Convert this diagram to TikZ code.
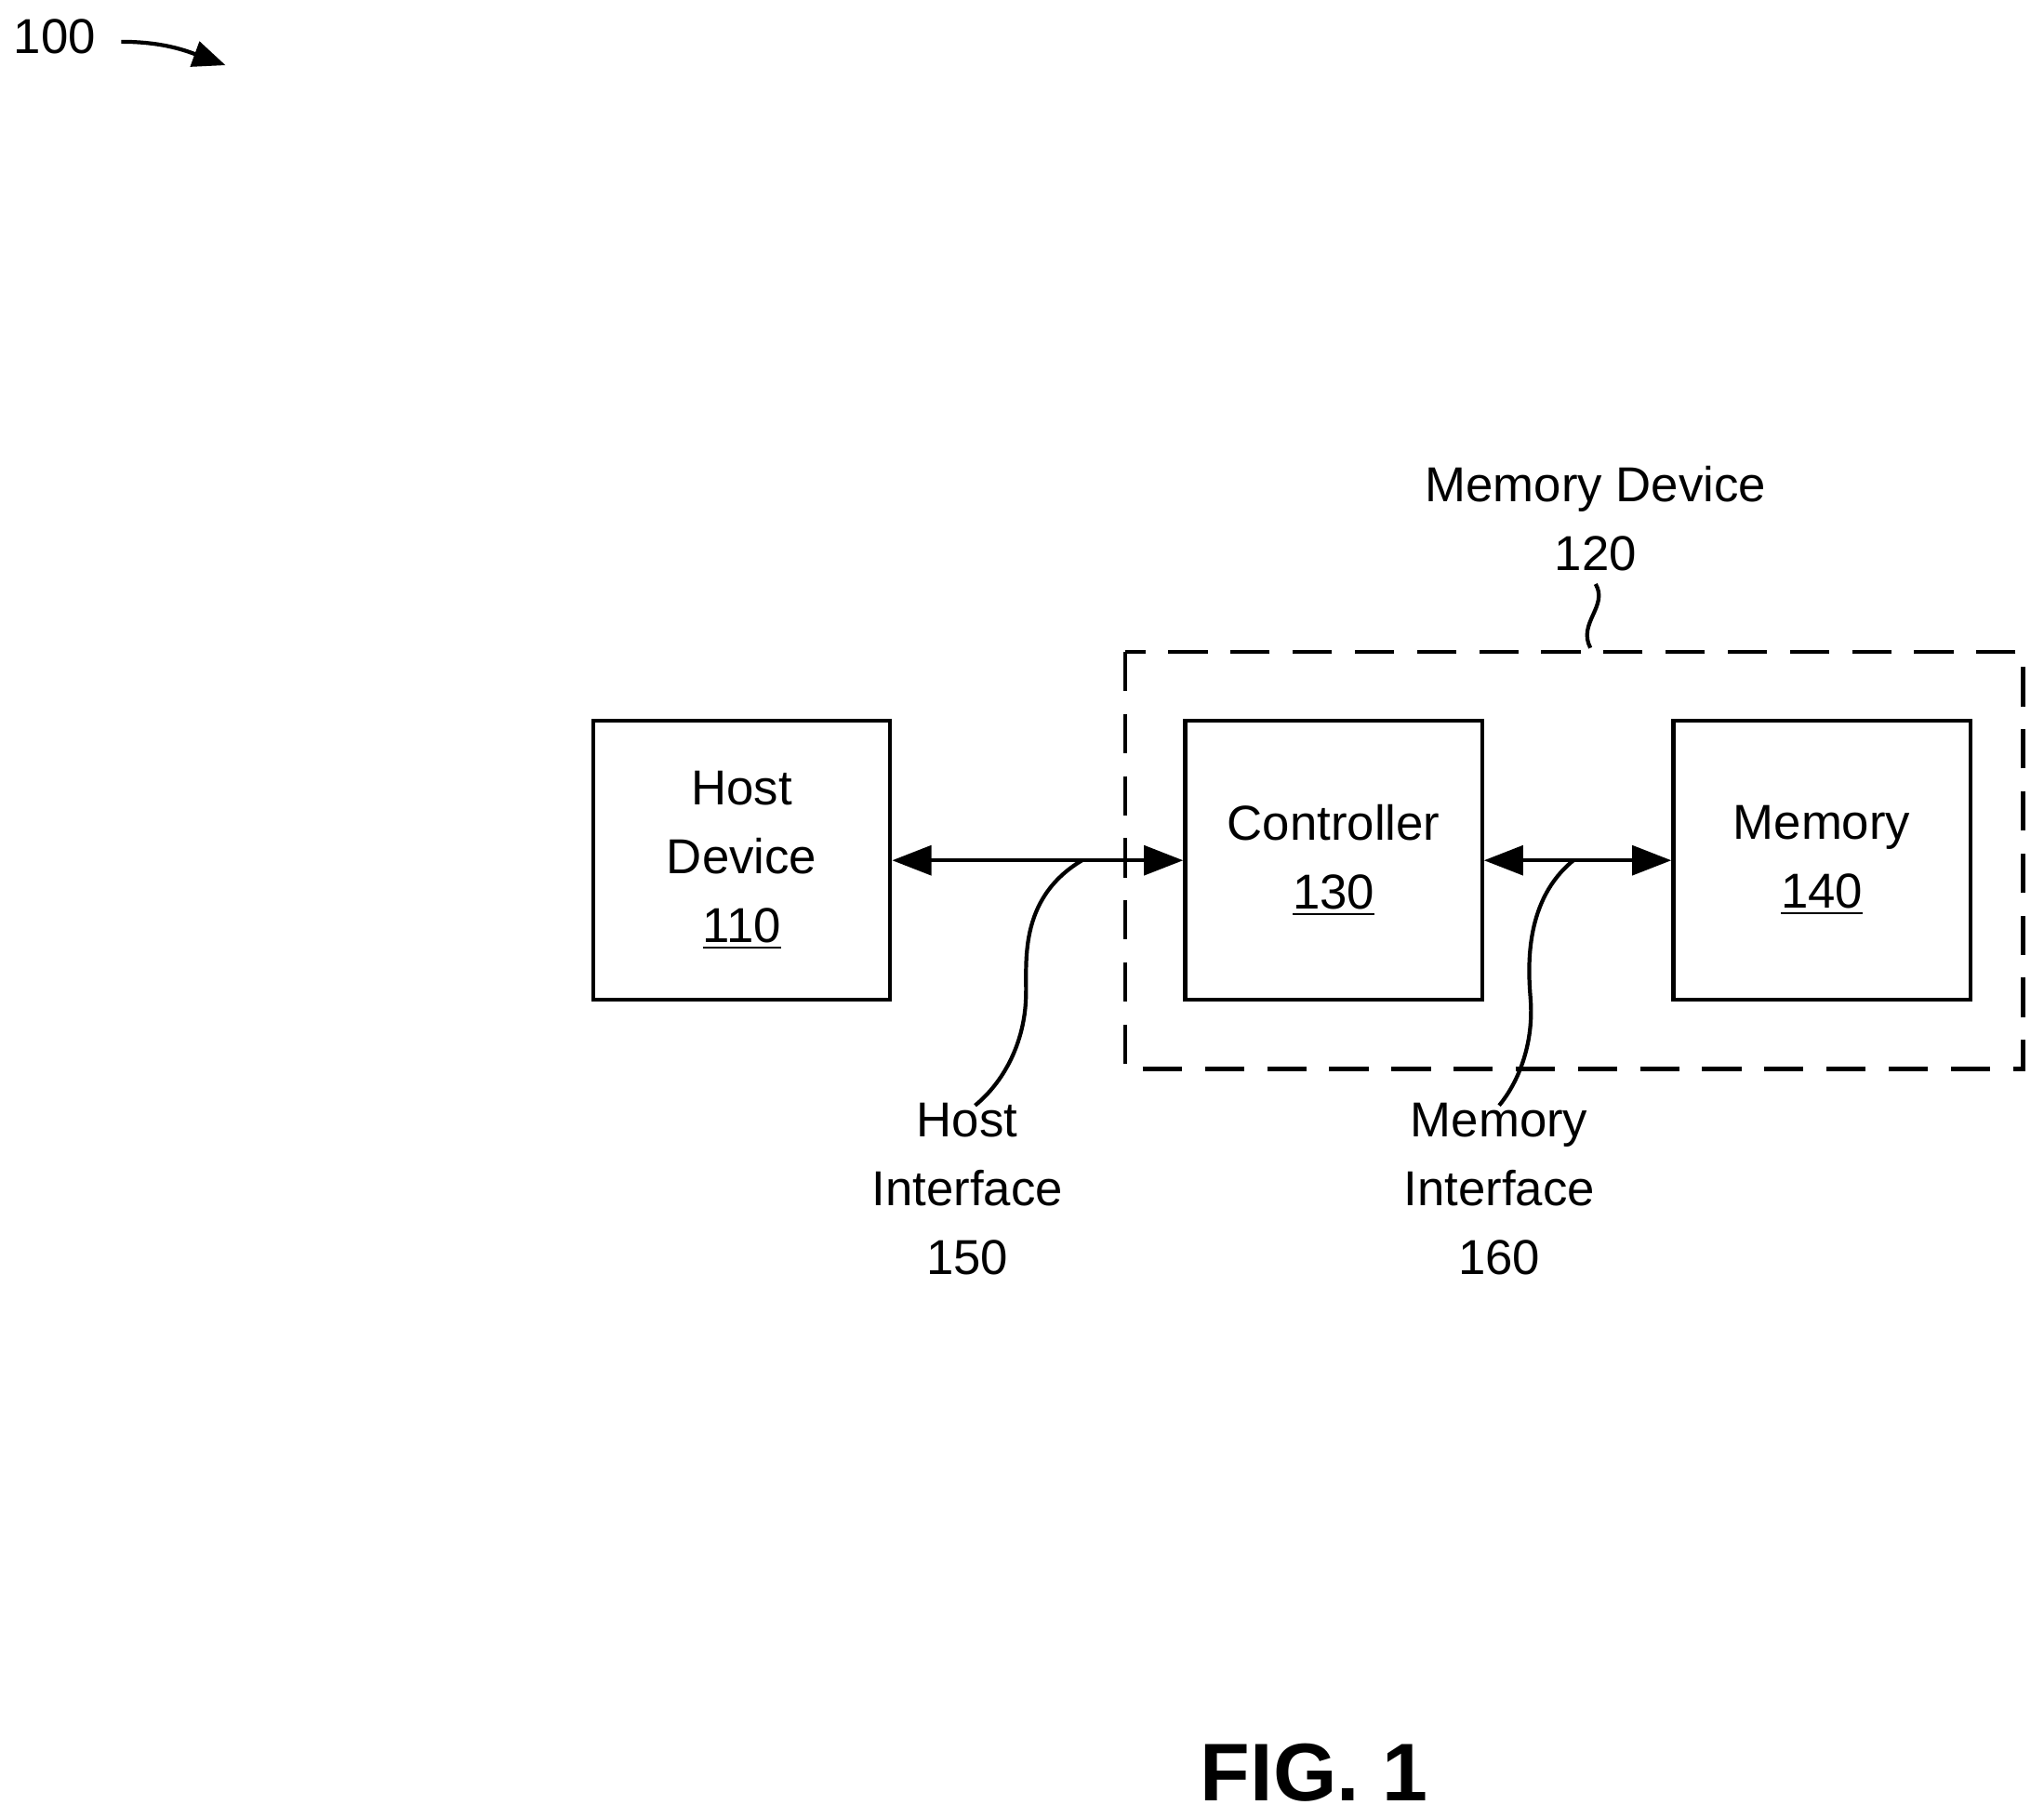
\documentclass[tikz,border=0pt]{standalone}
\usepackage{fontspec}
\setmainfont{Liberation Sans}
\usetikzlibrary{arrows.meta, positioning}
\tikzset{
  block/.style={draw, line width=1.2pt, minimum width=3.19cm, minimum height=3.0cm, align=center, inner sep=0pt},
  lbl/.style={align=center, inner sep=0pt},
  bus/.style={line width=1.2pt, {Triangle[length=12pt,width=9pt]}-{Triangle[length=12pt,width=9pt]}},
  lead/.style={line width=1.2pt}
}
\begin{document}
\begin{tikzpicture}[x=0.014cm, y=-0.014cm, font=\fontsize{15}{21}\selectfont]
  \useasboundingbox (0,0) rectangle (1568,1394);
  % figure reference
  \node[lbl, anchor=west] (fig) at (10,28) {100};
  \coordinate (figtip) at (173,50);
  \draw[lead, -{Triangle[length=10pt,width=8pt]}] (93,32) to[out=0, in=160] (figtip);
  % blocks
  \node[block] (host) at (569,660) {Host\\Device\\\underline{110}};
  \node[block] (ctrl) at (1023,660) {Controller\\\underline{130}};
  \node[block] (mem) at (1397.5,660) {Memory\\\underline{140}};
  % memory device outline
  \draw[line width=1.2pt, dash pattern=on 12pt off 7pt] (863,500) rectangle (1552,820);
  \node[lbl] (devlbl) at (1224,398) {Memory Device\\120};
  \coordinate (devtop) at (1220,497);
  \draw[lead] (1224,448) .. controls (1234,465) and (1210,478) .. (devtop);
  % interfaces
  \draw[bus] (host) -- (ctrl);
  \draw[bus] (ctrl) -- (mem);
  \node[lbl] (hif) at (742,912) {Host\\Interface\\150};
  \node[lbl] (mif) at (1150,912) {Memory\\Interface\\160};
  \coordinate (hbus) at (830,660);
  \coordinate (mbus) at (1207,660);
  \draw[lead] (hbus) .. controls (780,690) and (788,740) .. (787,765) .. controls (786,800) and (770,830) .. (748,848);
  \draw[lead] (mbus) .. controls (1170,690) and (1172,740) .. (1174,765) .. controls (1177,800) and (1165,830) .. (1150,848);
  % caption
  \node[lbl, font=\bfseries\fontsize{25}{30}\selectfont] (cap) at (1008,1360) {FIG. 1};
\end{tikzpicture}
\end{document}
